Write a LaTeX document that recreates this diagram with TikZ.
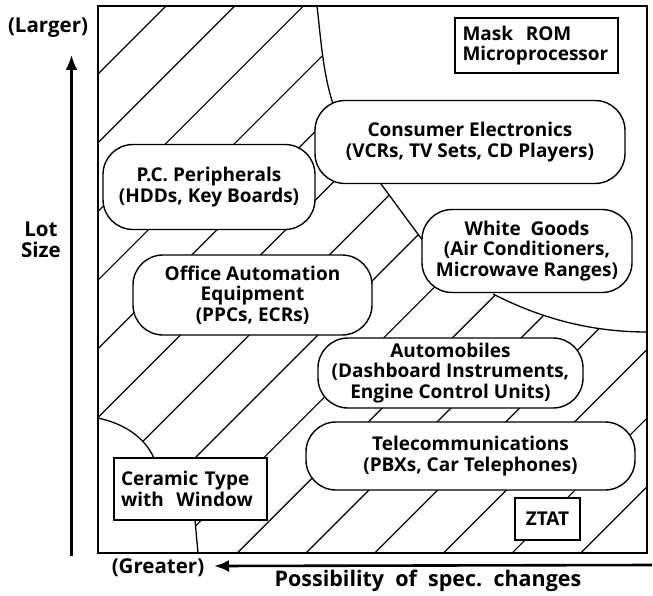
\documentclass[tikz,border=0pt]{standalone}
\usepackage{fontspec}
\setmainfont{Open Sans}
\usetikzlibrary{arrows.meta}
\tikzset{
  hatch/.style={line width=1.2pt},
  bound/.style={line width=1.3pt},
  txt/.style={font=\bfseries\fontsize{20.5}{21}\selectfont, inner sep=0pt},
  pill/.style={draw, fill=white, line width=1.4pt, rounded corners=30pt, align=center,
    font=\bfseries\fontsize{19}{20.5}\selectfont, inner sep=0pt},
  sqbox/.style={draw, fill=white, line width=1.4pt, align=left,
    font=\bfseries\fontsize{19}{20.5}\selectfont, inner sep=0pt},
  axis/.style={line width=2.6pt, -{Latex[length=15pt,width=12pt]}}
}
\begin{document}
\begin{tikzpicture}[x=1pt,y=-1pt]
\useasboundingbox (0,0) rectangle (653,596);
% region coordinates
\coordinate (tA) at (317,6);
\coordinate (tB) at (334,107);
\coordinate (mA) at (381,184);
\coordinate (mB) at (423,241);
\coordinate (rA) at (493,294);
\coordinate (rB) at (647,332);
\coordinate (lA) at (98,418);
\coordinate (lB) at (156,463);
\coordinate (bA) at (195,520);
\coordinate (bB) at (198,553);
% hatching: lines x + y = const (image coordinates, y downwards)
\begin{scope}
  \clip (98,6) rectangle (647,553);
  \foreach \k in {0,...,15} {
    \pgfmathsetmacro\hc{172+68.7*\k}
    \pgfmathsetmacro\hx{\hc-700}
    \draw[hatch] (\hc,0) -- (\hx,700);
  }
  % white regions
  \fill[white] (tA) .. controls (321,40) and (323,75) .. (tB) -- (381,150) -- (mA) -- (mB)
     -- (450,270) -- (rA) .. controls (540,318) and (590,332) .. (rB) -- (647,6) -- cycle;
  \fill[white] (lA) .. controls (125,424) and (147,438) .. (lB) -- (175,490) -- (bA) -- (bB)
     -- (98,553) -- cycle;
  \draw[bound] (tA) .. controls (321,40) and (323,75) .. (tB);
  \draw[bound] (mA) -- (mB);
  \draw[bound] (rA) .. controls (540,318) and (590,332) .. (rB);
  \draw[bound] (lA) .. controls (125,424) and (147,438) .. (lB);
  \draw[bound] (bA) -- (bB);
\end{scope}
% frame
\draw[line width=1.6pt] (98,6) rectangle (647,553);
% boxes
\node[sqbox, minimum width=163pt, minimum height=55pt, text width=148pt] (mask) at (536.5,45.5)
  {Mask\ \ ROM\\Microprocessor};
\node[pill, minimum width=310pt, minimum height=83pt] (ce) at (470,142)
  {Consumer Electronics\\(VCRs, TV Sets, CD Players)};
\node[pill, minimum width=212pt, minimum height=85pt] (pc) at (209,187)
  {P.C. Peripherals\\(HDDs, Key Boards)};
\node[pill, minimum width=210pt, minimum height=83pt] (wg) at (527,251)
  {White\ \ Goods\\(Air Conditioners,\\Microwave Ranges)};
\node[pill, minimum width=239pt, minimum height=80pt] (oa) at (252.5,295)
  {Office Automation\\Equipment\\(PPCs, ECRs)};
\node[pill, minimum width=265pt, minimum height=70pt] (au) at (450.5,373)
  {Automobiles\\(Dashboard Instruments,\\Engine Control Units)};
\node[pill, minimum width=329pt, minimum height=68pt] (tc) at (470.5,456)
  {Telecommunications\\(PBXs, Car Telephones)};
\node[sqbox, minimum width=153pt, minimum height=62pt, text width=139pt] (cer) at (190.5,489)
  {Ceramic Type\\with\ \ Window};
\node[sqbox, minimum width=65pt, minimum height=42pt, align=center] (ztat) at (547.5,519) {ZTAT};
% axes
\coordinate (yS) at (71.5,556);
\coordinate (yE) at (71.5,55);
\coordinate (xS) at (652,565);
\coordinate (xE) at (214,566);
\draw[axis] (yS) -- (yE);
\draw[axis] (xS) -- (xE);
\node[txt] (larger) at (48,28) {(Larger)};
\node[txt, align=center] (lot) at (41,240) {Lot\\Size};
\node[txt] (greater) at (158,568) {(Greater)};
\node[txt, font=\bfseries\fontsize{21.5}{23}\selectfont] (poss) at (428,581) {Possibility\ \ of\ \ spec.\ \ changes};
\end{tikzpicture}
\end{document}
